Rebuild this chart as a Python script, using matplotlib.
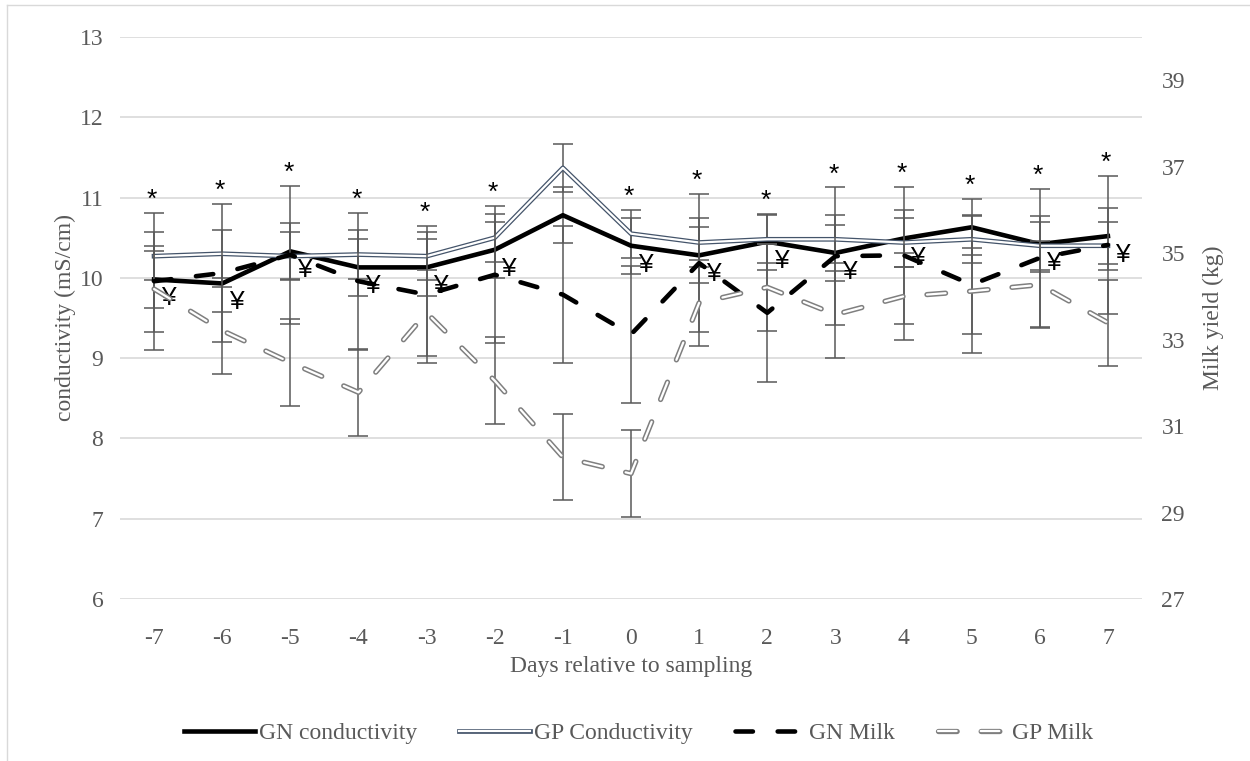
import matplotlib.pyplot as plt
import matplotlib.patheffects as pe
from matplotlib.lines import Line2D

# Datos
dias = ['-7', '-6', '-5', '-4', '-3', '-2', '-1', '0', '1', '2', '3', '4', '5', '6', '7']
gn_cond = [9.98, 9.93, 10.33, 10.13, 10.13, 10.35, 10.78, 10.40, 10.28, 10.45, 10.31, 10.49, 10.63, 10.42, 10.52]
gp_cond = [10.27, 10.30, 10.27, 10.29, 10.27, 10.50, 11.37, 10.55, 10.44, 10.48, 10.48, 10.44, 10.48, 10.40, 10.40]
gn_milk = [34.35, 34.54, 34.96, 34.35, 34.04, 34.50, 34.04, 33.12, 34.77, 33.62, 34.93, 34.95, 34.27, 34.89, 35.19]
gp_milk = [34.17, 33.21, 32.47, 31.78, 33.62, 32.05, 30.28, 29.90, 33.85, 34.21, 33.58, 34.00, 34.12, 34.27, 33.39]

gn_cond_err = [0.35] * 15
gp_cond_err = [0.30] * 15
gn_milk_err = [1.59] * 15
gp_milk_err = [1.00] * 15

estrellas = ['*', '*', '*', '*', '*', '*', '', '*', '*', '*', '*', '*', '*', '*', '*']
yenes = ['¥', '¥', '¥', '¥', '¥', '¥', '', '¥', '¥', '¥', '¥', '¥', '', '¥', '¥']

COND_LIM = (6, 13)
MILK_LIM = (27, 40)
GRIS = '#595959'
SERIF = 'Liberation Serif'
FS = 17

plt.rcParams['font.family'] = SERIF


def milk_en_cond(v):
    # pasa un valor del eje derecho a unidades del eje izquierdo
    return COND_LIM[0] + (v - MILK_LIM[0]) * (COND_LIM[1] - COND_LIM[0]) / (MILK_LIM[1] - MILK_LIM[0])


fig = plt.figure(figsize=(12.5, 7.61), dpi=100)
ax = fig.add_axes([0.096, 0.2129, 0.8176, 0.7385])
ax2 = ax.twinx()

x = list(range(len(dias)))

# Barras de error
eb = dict(fmt='none', ecolor=GRIS, elinewidth=1.1, capsize=7.5, capthick=1.1, zorder=2)
ax.errorbar(x, gn_cond, yerr=gn_cond_err, **eb)
ax.errorbar(x, gp_cond, yerr=gp_cond_err, **eb)
ax2.errorbar(x, gn_milk, yerr=gn_milk_err, **eb)
ax2.errorbar(x, gp_milk, yerr=gp_milk_err, **eb)

# Series
l1, = ax.plot(x, gn_cond, color='black', lw=3.3, solid_joinstyle='round', zorder=3,
              label='GN conductivity')
l2, = ax.plot(x, gp_cond, color='white', lw=1.6, zorder=3, label='GP Conductivity',
              path_effects=[pe.Stroke(linewidth=3.4, foreground='#44546A'), pe.Normal()])
l3, = ax2.plot(x, gn_milk, color='black', lw=3.3, dashes=(3.8, 5.4), dash_capstyle='round',
               zorder=3, label='GN Milk')
l4, = ax2.plot(x, gp_milk, color='white', lw=1.6, dashes=(8.4, 10.8), dash_capstyle='round',
               zorder=3, label='GP Milk',
               path_effects=[pe.Stroke(linewidth=3.8, foreground='#7F7F7F'), pe.Normal()])

# Ejes
ax.set_xlim(-0.5, len(dias) - 0.5)
ax.set_ylim(*COND_LIM)
ax2.set_ylim(*MILK_LIM)
ax.set_yticks(range(6, 14))
ax2.set_yticks(range(27, 40, 2))
ax.set_xticks(x)
ax.set_xticklabels(dias)

for a in (ax, ax2):
    for s in a.spines.values():
        s.set_visible(False)
    a.tick_params(length=0, labelsize=FS, labelcolor=GRIS)
ax.tick_params(axis='x', pad=21)
ax.tick_params(axis='y', pad=12)
ax2.tick_params(axis='y', pad=14)

ax.yaxis.grid(True, color='#D9D9D9', lw=1.2)
ax.set_axisbelow(True)

ax.set_ylabel('conductivity (mS/cm)', fontsize=FS, color=GRIS, labelpad=3)
ax2.set_ylabel('Milk yield (kg)', fontsize=FS, color=GRIS, labelpad=12.5)
ax.set_xlabel('Days relative to sampling', fontsize=FS, color=GRIS, labelpad=5)

# Marcas de significancia
for i in x:
    tope = max(gn_cond[i] + gn_cond_err[i], gp_cond[i] + gp_cond_err[i],
               milk_en_cond(gn_milk[i] + gn_milk_err[i]),
               milk_en_cond(gp_milk[i] + gp_milk_err[i]))
    if estrellas[i]:
        ax.annotate(estrellas[i], (i, tope), xytext=(-2, 13), textcoords='offset pixels',
                    ha='center', va='center', fontsize=19, family='Liberation Sans',
                    zorder=5)
    if yenes[i]:
        ax.annotate(yenes[i], (i, gn_cond[i]), xytext=(14, -19), textcoords='offset pixels',
                    ha='center', va='center', fontsize=19, family='Liberation Sans',
                    zorder=5)

# Leyenda
fig.legend(handles=[l1, l2, l3, l4], loc='center', bbox_to_anchor=(0.511, 1 - 733 / 761),
           ncol=4, frameon=False, handlelength=3.0, handletextpad=0.15, columnspacing=1.8,
           fontsize=FS, labelcolor=GRIS)

# Borde del area del grafico
fig.add_artist(Line2D([7 / 1250, 7 / 1250], [0, 1 - 5 / 761], color='#D9D9D9', lw=1,
                      transform=fig.transFigure))
fig.add_artist(Line2D([7 / 1250, 1], [1 - 5 / 761, 1 - 5 / 761], color='#D9D9D9', lw=1,
                      transform=fig.transFigure))

plt.savefig('out.png', dpi=100)
